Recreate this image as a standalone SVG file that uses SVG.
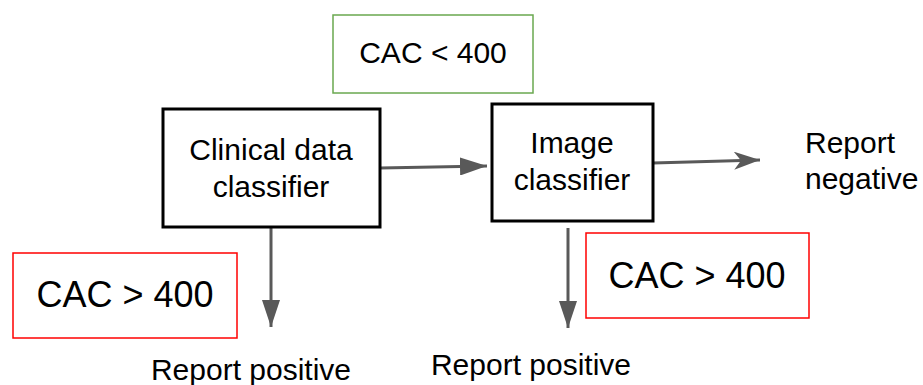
<svg xmlns="http://www.w3.org/2000/svg" width="923" height="385" viewBox="0 0 923 385">
<style>
text{font-family:"Liberation Sans",Arial,sans-serif;fill:#000;}
.t30{font-size:30px;}
.t36{font-size:36px;}
.node{fill:#fff;stroke:#000;stroke-width:3;}
.red{fill:#fff;stroke:#ff0000;stroke-width:1.5;}
.green{fill:#fff;stroke:#6aa84f;stroke-width:1.5;}
.conn{stroke:#595959;stroke-width:3;fill:none;}
</style>
<defs>
<marker id="ah" markerUnits="userSpaceOnUse" markerWidth="27" markerHeight="18" refX="27" refY="9" orient="auto">
<path d="M0,0 L27,9 L0,18 z" fill="#595959"/>
</marker>
<marker id="ahn" markerUnits="userSpaceOnUse" markerWidth="26" markerHeight="18" refX="26" refY="9" orient="auto">
<path d="M0,0 L26,9 L0,18 L7,9 z" fill="#595959"/>
</marker>
</defs>
<rect width="923" height="385" fill="#fff"/>
<g id="connectors">
<line class="conn" x1="380" y1="168" x2="487" y2="166" marker-end="url(#ah)"/>
<line class="conn" x1="653" y1="163" x2="760" y2="160" marker-end="url(#ahn)"/>
<line class="conn" x1="271" y1="228" x2="271" y2="327" marker-end="url(#ah)"/>
<line class="conn" x1="568" y1="228" x2="568" y2="328" marker-end="url(#ah)"/>
</g>
<g id="clinical">
<rect class="node" x="163" y="109" width="217" height="118"/>
<text class="t30" x="271" y="160" text-anchor="middle">Clinical data</text>
<text class="t30" x="271" y="197" text-anchor="middle">classifier</text>
</g>
<g id="image">
<rect class="node" x="492" y="104" width="161" height="117"/>
<text class="t30" x="572" y="153" text-anchor="middle">Image</text>
<text class="t30" x="572" y="190" text-anchor="middle">classifier</text>
</g>
<g id="cac-lt">
<rect class="green" x="333" y="15" width="200" height="78"/>
<text class="t30" x="433" y="63" text-anchor="middle">CAC &lt; 400</text>
</g>
<g id="cac-gt-left">
<rect class="red" x="13" y="253" width="224" height="85"/>
<text class="t36" x="125" y="307" text-anchor="middle">CAC &gt; 400</text>
</g>
<g id="cac-gt-right">
<rect class="red" x="586" y="233" width="223" height="85"/>
<text class="t36" x="697" y="288" text-anchor="middle">CAC &gt; 400</text>
</g>
<g id="report-negative">
<text class="t30" x="805" y="153">Report</text>
<text class="t30" x="805" y="189">negative</text>
</g>
<g id="report-positive-1">
<text class="t30" x="251" y="380" text-anchor="middle">Report positive</text>
</g>
<g id="report-positive-2">
<text class="t30" x="531" y="375" text-anchor="middle">Report positive</text>
</g>
</svg>
